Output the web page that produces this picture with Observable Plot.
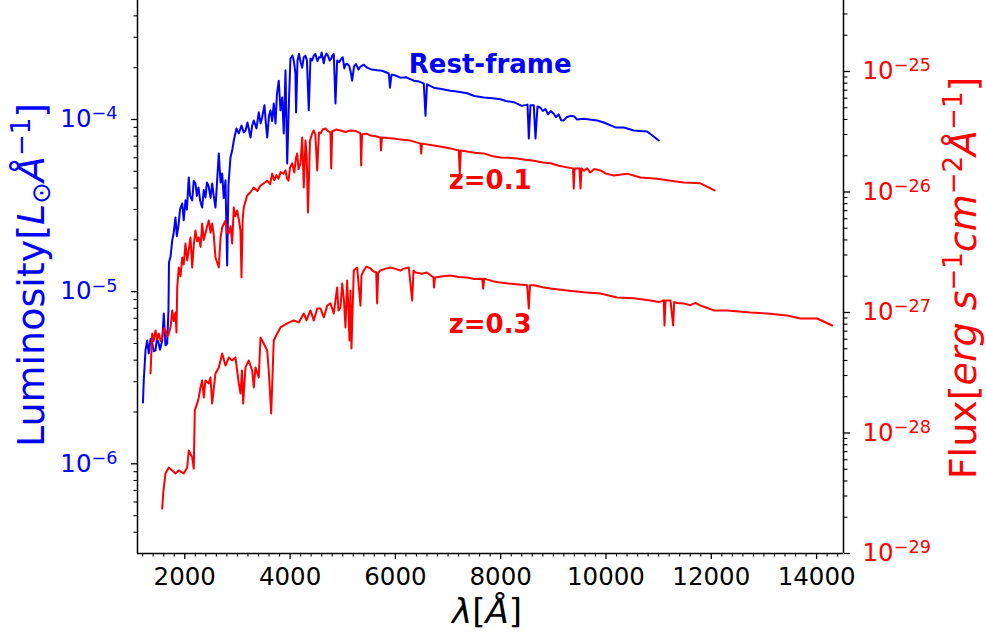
<!DOCTYPE html>
<html><head><meta charset="utf-8">
<script src="https://cdn.jsdelivr.net/npm/d3@7"></script>
<script src="https://cdn.jsdelivr.net/npm/@observablehq/plot@0.6"></script>
<style>
body{margin:0;background:#fff;}
#chart{position:relative;width:986px;height:639px;overflow:hidden;}
#chart svg{font-family:"DejaVu Sans",sans-serif;}
</style></head><body><div id="chart"></div>
<script>
// ---- Rest-frame spectrum: [wavelength Å, luminosity Lsun/Å] (left axis) ----
const restFrame = [[1206,2.27e-6],[1221,3.05e-6],[1254,4.56e-6],[1286,5.21e-6],[1316,4.38e-6],[1350,5.3e-6],[1381,5.07e-6],[1410,4.5e-6],[1444,4.56e-6],[1470,5.3e-6],[1500,5.07e-6],[1530,4.6e-6],[1571,5.21e-6],[1601,7.46e-6],[1633,4.88e-6],[1666,5.0e-6],[1690,7.78e-6],[1700,1.48e-5],[1730,1.6e-5],[1761,1.98e-5],[1790,2.2e-5],[1823,2.70e-5],[1850,2.1e-5],[1880,2.42e-5],[1910,3.0e-5],[1951,3.25e-5],[1980,2.6e-5],[2013,3.39e-5],[2040,3.0e-5],[2076,4.61e-5],[2100,3.6e-5],[2141,3.39e-5],[2170,4.4e-5],[2203,4.25e-5],[2230,3.6e-5],[2260,4.03e-5],[2290,3.4e-5],[2330,3.08e-5],[2360,3.9e-5],[2393,3.52e-5],[2420,4.3e-5],[2450,4.14e-5],[2490,3.5e-5],[2520,4.25e-5],[2550,3.6e-5],[2583,3.08e-5],[2610,4.2e-5],[2646,6.35e-5],[2680,4.3e-5],[2710,4.85e-5],[2740,3.5e-5],[2773,4.43e-5],[2805,1.42e-5],[2830,4.2e-5],[2868,6.01e-5],[2900,6.6e-5],[2931,7.55e-5],[2982,8.87e-5],[3026,8.30e-5],[3077,9.23e-5],[3120,8.4e-5],[3153,8.63e-5],[3191,9.61e-5],[3248,7.86e-5],[3280,9.2e-5],[3311,9.87e-5],[3362,8.87e-5],[3405,1.10e-4],[3440,9.5e-5],[3470,1.03e-4],[3514,1.21e-4],[3540,9.5e-5],[3565,7.86e-5],[3600,1.05e-4],[3628,1.13e-4],[3660,9.8e-5],[3690,1.24e-4],[3723,9.48e-5],[3750,1.4e-4],[3785,1.68e-4],[3818,1.13e-4],[3850,1.34e-4],[3880,8.30e-5],[3913,1.93e-4],[3945,5.55e-5],[3979,1.29e-4],[4007,2.26e-4],[4046,2.35e-4],[4075,2.15e-4],[4102,1.85e-4],[4114,1.10e-4],[4141,2.20e-4],[4170,2.40e-4],[4200,2.15e-4],[4230,2.00e-4],[4260,2.30e-4],[4292,2.35e-4],[4320,2.20e-4],[4355,1.13e-4],[4387,2.26e-4],[4420,2.20e-4],[4450,2.35e-4],[4480,2.40e-4],[4520,2.18e-4],[4550,2.30e-4],[4577,2.29e-4],[4600,2.45e-4],[4640,2.12e-4],[4660,2.30e-4],[4691,2.42e-4],[4720,2.35e-4],[4750,2.20e-4],[4780,2.25e-4],[4800,2.35e-4],[4830,2.40e-4],[4862,1.24e-4],[4894,2.20e-4],[4930,2.15e-4],[4976,2.26e-4],[5000,2.30e-4],[5030,1.98e-4],[5060,2.10e-4],[5084,2.11e-4],[5120,2.05e-4],[5150,1.90e-4],[5179,1.68e-4],[5214,2.03e-4],[5250,2.10e-4],[5300,1.95e-4],[5337,2.03e-4],[5400,2.08e-4],[5464,2.00e-4],[5550,1.95e-4],[5654,1.93e-4],[5750,1.92e-4],[5875,1.85e-4],[5897,1.53e-4],[5926,1.82e-4],[6000,1.80e-4],[6097,1.75e-4],[6200,1.76e-4],[6349,1.68e-4],[6450,1.66e-4],[6539,1.62e-4],[6572,1.05e-4],[6600,1.60e-4],[6729,1.53e-4],[6900,1.50e-4],[7046,1.47e-4],[7200,1.45e-4],[7364,1.42e-4],[7500,1.37e-4],[7679,1.34e-4],[7850,1.33e-4],[7996,1.31e-4],[8100,1.28e-4],[8249,1.26e-4],[8400,1.20e-4],[8510,1.22e-4],[8534,7.76e-5],[8566,1.21e-4],[8629,1.21e-4],[8661,7.76e-5],[8699,1.19e-4],[8756,1.17e-4],[8800,1.12e-4],[8850,1.15e-4],[8900,1.07e-4],[8950,1.12e-4],[9008,1.08e-4],[9050,1.03e-4],[9100,1.07e-4],[9150,9.9e-5],[9198,9.87e-5],[9250,1.03e-4],[9326,1.05e-4],[9400,1.04e-4],[9450,1.00e-4],[9578,1.01e-4],[9833,9.87e-5],[9958,9.61e-5],[10180,8.99e-5],[10338,8.99e-5],[10528,8.63e-5],[10782,8.51e-5],[11003,7.55e-5]];

// ---- z = 0.1 spectrum: [wavelength Å, flux erg/s/cm2/Å] (right axis) ----
const redshift01 = [[1349,3.12e-28],[1381,6.70e-28],[1410,5.8e-28],[1444,7.10e-28],[1475,6.0e-28],[1506,6.70e-28],[1540,5.8e-28],[1571,6.21e-28],[1600,7.4e-28],[1633,7.10e-28],[1665,6.3e-28],[1696,6.70e-28],[1730,7.6e-28],[1761,1.04e-27],[1790,8.5e-28],[1823,1.0e-27],[1842,6.83e-28],[1856,1.61e-27],[1886,2.36e-27],[1920,2.0e-27],[1951,2.86e-27],[1980,2.5e-27],[2013,3.74e-27],[2046,2.70e-27],[2075,3.3e-27],[2108,4.19e-27],[2141,2.36e-27],[2170,3.6e-27],[2203,4.79e-27],[2235,3.9e-27],[2266,4.19e-27],[2300,3.5e-27],[2330,5.48e-27],[2360,4.0e-27],[2393,4.53e-27],[2425,5.2e-27],[2456,5.80e-27],[2490,4.6e-27],[2520,5.48e-27],[2550,4.4e-27],[2583,2.86e-27],[2646,2.36e-27],[2680,4.2e-27],[2710,5.07e-27],[2773,5.80e-27],[2800,4.6e-27],[2836,4.53e-27],[2870,5.2e-27],[2900,3.74e-27],[2931,7.43e-27],[2960,6.3e-27],[2995,7.02e-27],[3030,5.8e-27],[3058,4.79e-27],[3077,1.95e-27],[3100,6.0e-27],[3121,7.43e-27],[3185,9.35e-27],[3250,1.0e-26],[3311,1.09e-26],[3380,1.02e-26],[3438,1.13e-26],[3500,1.18e-26],[3565,1.24e-26],[3620,1.16e-26],[3660,1.42e-26],[3700,1.25e-26],[3740,1.38e-26],[3780,1.29e-26],[3820,1.46e-26],[3875,1.42e-26],[3913,1.51e-26],[3940,1.30e-26],[3970,1.24e-26],[4000,1.60e-26],[4040,1.73e-26],[4080,1.45e-26],[4110,1.90e-26],[4135,2.09e-26],[4160,1.55e-26],[4198,1.73e-26],[4230,2.83e-26],[4260,1.09e-26],[4293,2.67e-26],[4315,2.0e-26],[4340,6.76e-27],[4378,2.67e-26],[4420,3.06e-26],[4450,3.24e-26],[4480,3.0e-26],[4515,1.51e-26],[4549,3.12e-26],[4577,3.06e-26],[4620,3.30e-26],[4672,3.37e-26],[4720,3.20e-26],[4767,3.12e-26],[4781,1.57e-26],[4800,3.18e-26],[4880,3.30e-26],[4957,3.24e-26],[5050,3.15e-26],[5147,3.24e-26],[5250,3.20e-26],[5337,3.06e-26],[5350,1.66e-26],[5366,3.0e-26],[5450,3.05e-26],[5527,2.94e-26],[5620,2.90e-26],[5717,2.83e-26],[5726,2.21e-26],[5745,2.83e-26],[5850,2.80e-26],[5969,2.78e-26],[6100,2.72e-26],[6287,2.67e-26],[6400,2.58e-26],[6477,2.52e-26],[6490,2.09e-26],[6505,2.52e-26],[6729,2.43e-26],[6900,2.36e-26],[7046,2.30e-26],[7204,2.21e-26],[7223,1.42e-26],[7242,2.21e-26],[7364,2.17e-26],[7500,2.12e-26],[7679,2.09e-26],[7850,1.98e-26],[7996,1.93e-26],[8150,1.92e-26],[8313,1.90e-26],[8470,1.85e-26],[8629,1.82e-26],[8800,1.76e-26],[8946,1.73e-26],[9100,1.65e-26],[9263,1.60e-26],[9373,1.57e-26],[9388,1.07e-26],[9404,1.57e-26],[9497,1.57e-26],[9516,1.07e-26],[9535,1.57e-26],[9580,1.50e-26],[9643,1.57e-26],[9700,1.45e-26],[9780,1.55e-26],[9895,1.51e-26],[10000,1.42e-26],[10148,1.37e-26],[10402,1.42e-26],[10655,1.32e-26],[10972,1.29e-26],[11225,1.24e-26],[11478,1.20e-26],[11795,1.18e-26],[12061,1.03e-26]];

// ---- z = 0.3 spectrum: [wavelength Å, flux erg/s/cm2/Å] (right axis) ----
const redshift03 = [[1571,2.36e-29],[1590,3.15e-29],[1633,4.61e-29],[1696,5.17e-29],[1761,4.89e-29],[1823,4.61e-29],[1886,4.89e-29],[1981,4.61e-29],[2046,5.17e-29],[2076,7.16e-29],[2141,6.27e-29],[2171,5.07e-29],[2190,1.54e-28],[2236,1.76e-28],[2266,1.97e-28],[2298,2.39e-28],[2330,2.73e-28],[2361,1.97e-28],[2393,2.73e-28],[2456,2.58e-28],[2488,2.89e-28],[2520,1.76e-28],[2583,3.12e-28],[2646,3.50e-28],[2710,4.57e-28],[2773,3.63e-28],[2836,4.23e-28],[2900,4.00e-28],[2963,4.23e-28],[3026,2.58e-28],[3058,2.13e-28],[3086,3.30e-28],[3109,1.76e-28],[3153,3.50e-28],[3216,4.00e-28],[3280,3.30e-28],[3311,2.39e-28],[3343,3.50e-28],[3405,2.89e-28],[3438,6.21e-28],[3500,5.53e-28],[3565,4.84e-28],[3595,3.30e-28],[3641,1.45e-28],[3690,5.86e-28],[3755,6.70e-28],[3818,7.51e-28],[3945,8.11e-28],[4070,8.59e-28],[4165,8.27e-28],[4260,9.82e-28],[4311,8.59e-28],[4387,1.04e-27],[4450,8.59e-28],[4515,1.08e-27],[4577,1.08e-27],[4640,9.10e-28],[4705,1.14e-27],[4767,1.19e-27],[4830,9.82e-28],[4894,1.61e-27],[4919,1.04e-27],[4957,1.10e-27],[4990,1.74e-27],[5023,1.26e-27],[5052,7.51e-28],[5084,1.84e-27],[5109,1.04e-27],[5128,5.86e-28],[5147,1.52e-27],[5166,5.02e-28],[5210,2.23e-27],[5274,2.36e-27],[5337,1.14e-27],[5356,2.03e-27],[5400,2.23e-27],[5450,2.40e-27],[5527,2.32e-27],[5580,2.20e-27],[5635,2.15e-27],[5654,1.19e-27],[5673,2.15e-27],[5717,2.23e-27],[5800,2.30e-27],[5907,2.36e-27],[6000,2.30e-27],[6097,2.23e-27],[6150,2.30e-27],[6255,2.36e-27],[6319,1.26e-27],[6344,2.23e-27],[6382,2.15e-27],[6500,2.10e-27],[6600,2.15e-27],[6724,1.95e-27],[6733,1.61e-27],[6752,1.95e-27],[6900,2.00e-27],[7046,2.03e-27],[7200,1.97e-27],[7364,1.95e-27],[7500,1.90e-27],[7649,1.91e-27],[7668,1.58e-27],[7687,1.91e-27],[7850,1.82e-27],[7996,1.77e-27],[8250,1.72e-27],[8503,1.68e-27],[8534,1.08e-27],[8556,1.68e-27],[8629,1.68e-27],[8800,1.62e-27],[8946,1.58e-27],[9263,1.52e-27],[9578,1.47e-27],[9895,1.44e-27],[10212,1.33e-27],[10528,1.31e-27],[10845,1.26e-27],[11000,1.22e-27],[11098,1.26e-27],[11111,7.80e-28],[11130,1.26e-27],[11225,1.26e-27],[11276,7.80e-28],[11295,1.22e-27],[11350,1.20e-27],[11478,1.19e-27],[11600,1.15e-27],[11700,1.20e-27],[11795,1.14e-27],[11900,1.10e-27],[12047,1.04e-27],[12302,1.04e-27],[12744,1.0e-27],[13061,9.82e-28],[13441,9.44e-28],[13694,8.91e-28],[14011,8.91e-28],[14296,7.80e-28]];

// ---- Axis tick values ----
const xTicks = [2000,4000,6000,8000,10000,12000,14000];
const leftTicks = [1e-6,1e-5,1e-4];
const rightTicks = [1e-29,1e-28,1e-27,1e-26,1e-25];

// ---- Annotations ----
const labelText = ["Rest-frame","z=0.1","z=0.3"];
const labelWave = [7800,7800,7800];
const labelLum  = [2.09e-4, null, null];
const labelFlux = [null, 1.24e-26, 7.94e-28];

// ---- Axis domains ----
const XDOM = [1102, 14511];
const LDOM = [3.013e-7, 4.911e-4];
const FDOM = [1e-29, 3.882e-25];

const lg = Math.log10;
const toL = f => Math.pow(10, lg(LDOM[0]) + (lg(f) - lg(FDOM[0])) * (lg(LDOM[1]) - lg(LDOM[0])) / (lg(FDOM[1]) - lg(FDOM[0])));

const rest = restFrame.map(([w, v]) => ({w, v}));
const z01 = redshift01.map(([w, f]) => ({w, v: toL(f)}));
const z03 = redshift03.map(([w, f]) => ({w, v: toL(f)}));

const xMinor = d3.range(1200, 14500, 200).filter(d => d % 2000 !== 0);
function minorLog(lo, hi) {
  const out = [];
  for (let e = Math.floor(lg(lo)); e <= Math.ceil(lg(hi)); e++)
    for (let m = 2; m <= 9; m++) { const v = m * Math.pow(10, e); if (v > lo && v < hi) out.push(v); }
  return out;
}
const leftMinor = minorLog(LDOM[0], LDOM[1]);
const rightMinor = minorLog(FDOM[0], FDOM[1]).map(toL);
const expFmt = v => "10^" + Math.round(lg(v));

const blue = "#0000ff", red = "#ff0000";
const annRest = [{w: labelWave[0], v: labelLum[0], t: labelText[0]}];
const annRed = [1, 2].map(i => ({w: labelWave[i], v: toL(labelFlux[i]), t: labelText[i]}));
const rightLab = rightTicks.map(f => ({v: toL(f), t: expFmt(f)}));

const TF = 24.5;
const svg = Plot.plot({
  width: 986, height: 639,
  marginLeft: 137, marginRight: 143, marginTop: 0, marginBottom: 86,
  style: {fontFamily: "DejaVu Sans, sans-serif", background: "white"},
  x: {domain: XDOM},
  y: {type: "log", domain: LDOM},
  marks: [
    Plot.line(rest, {x: "w", y: "v", stroke: blue, strokeWidth: 2}),
    Plot.line(z01, {x: "w", y: "v", stroke: red, strokeWidth: 2}),
    Plot.line(z03, {x: "w", y: "v", stroke: red, strokeWidth: 2}),
    Plot.text(annRest, {x: "w", y: "v", text: "t", fill: blue, fontWeight: "bold", fontSize: 26}),
    Plot.text(annRed, {x: "w", y: "v", text: "t", fill: red, fontWeight: "bold", fontSize: 26}),
    // spines
    Plot.ruleX([XDOM[0], XDOM[1]], {stroke: "black", strokeWidth: 1.5}),
    Plot.ruleY([LDOM[0]], {stroke: "black", strokeWidth: 1.5}),
    // x axis
    Plot.axisX(xTicks, {anchor: "bottom", tickSize: 6, tickPadding: 8, fontSize: TF, tickFormat: d => String(d), label: null, strokeWidth: 1.3}),
    Plot.axisX(xMinor, {anchor: "bottom", tickSize: 3.5, tickFormat: () => "", label: null, strokeWidth: 1.1}),
    // left axis
    Plot.axisY(leftTicks, {anchor: "left", tickSize: 6, tickFormat: () => "", label: null, strokeWidth: 1.3}),
    Plot.axisY(leftMinor, {anchor: "left", tickSize: 3.5, tickFormat: () => "", label: null, strokeWidth: 1.1}),
    Plot.axisY(leftTicks, {anchor: "left", tickSize: 0, tickPadding: 20, fontSize: TF, color: blue, tickFormat: expFmt, label: null}),
    // right axis
    Plot.axisY(rightTicks.map(toL), {anchor: "right", tickSize: 6, tickFormat: () => "", label: null, strokeWidth: 1.3}),
    Plot.axisY(rightMinor, {anchor: "right", tickSize: 3.5, tickFormat: () => "", label: null, strokeWidth: 1.1}),
    Plot.text(rightLab, {y: "v", text: "t", frameAnchor: "right", dx: 19, textAnchor: "start", fill: red, fontSize: TF})
  ]
});

// Render exponent labels with real superscripts
d3.select(svg).selectAll("text").each(function () {
  const m = (this.textContent || "").match(/^10\^(-?\d+)$/);
  if (!m) return;
  const s = d3.select(this);
  s.text("10");
  s.append("tspan").attr("dy", "-0.45em").attr("font-size", "0.72em").text(m[1].replace("-", "\u2212"));
});

const S = d3.select(svg);
function richLabel(parent, parts, attrs) {
  const t = parent.append("text");
  for (const [k, v] of Object.entries(attrs)) t.attr(k, v);
  for (const p of parts) {
    const sp = t.append("tspan").text(p.t);
    if (p.i) sp.attr("font-style", "italic");
    if (p.fs) sp.attr("font-size", p.fs);
    if (p.dy) sp.attr("dy", p.dy);
  }
  return t;
}
// x label
richLabel(S, [{t: "\u03bb", i: 1}, {t: "["}, {t: "\u00c5", i: 1}, {t: "]"}],
  {x: 487, y: 623, "text-anchor": "middle", "font-size": 34, fill: "black"});
// left label
richLabel(S, [{t: "Luminosity["}, {t: "L", i: 1}, {t: "\u2299", fs: 26, dy: 6}, {t: "\u00c5", i: 1, dy: -6}, {t: "\u22121", fs: 26, dy: -14}, {t: "]", dy: 14}],
  {transform: "translate(43.5,275) rotate(-90)", "text-anchor": "middle", "font-size": 38, fill: blue});
// right label
richLabel(S, [{t: "Flux["}, {t: "erg s", i: 1}, {t: "\u22121", fs: 26, dy: -14}, {t: "cm", i: 1, dy: 14}, {t: "\u22122", fs: 26, dy: -14}, {t: "\u00c5", i: 1, dy: 14}, {t: "\u22121", fs: 26, dy: -14}, {t: "]", dy: 14}],
  {transform: "translate(976,278) rotate(-90)", "text-anchor": "middle", "font-size": 38, fill: red});

document.getElementById("chart").appendChild(svg);
</script></body></html>
